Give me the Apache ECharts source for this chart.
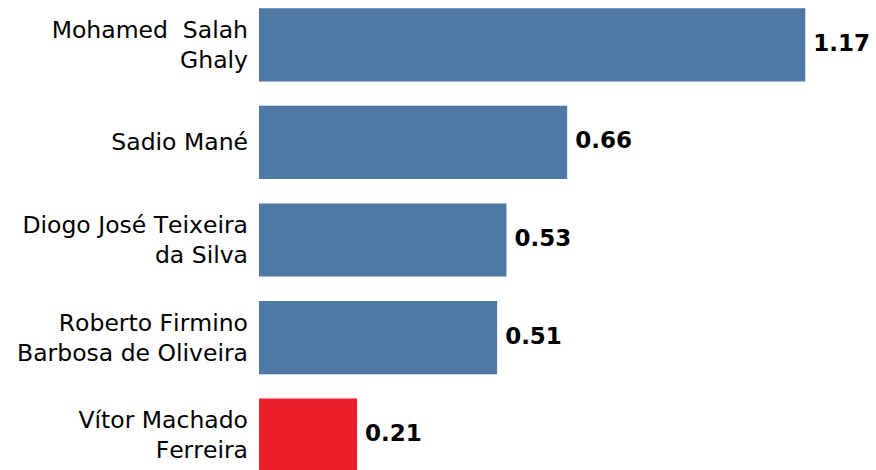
<!DOCTYPE html>
<html>
<head>
<meta charset="utf-8">
<script src="https://cdn.jsdelivr.net/npm/echarts@6/dist/echarts.min.js"></script>
<style>
  html, body { margin: 0; padding: 0; background: #fff; overflow: hidden; }
  body { width: 876px; height: 470px; position: relative; }
  /* the plot runs a little past the top and bottom of the picture */
  #chart { width: 876px; height: 488px; position: absolute; left: 0; top: -4px; }
  #chart text { font-kerning: none; }
</style>
</head>
<body>
<div id="chart"></div>
<script>
// players, top to bottom
var players = [
    'Mohamed  Salah\nGhaly',
    'Sadio Mané',
    'Diogo José Teixeira\nda Silva',
    'Roberto Firmino\nBarbosa de Oliveira',
    'Vítor Machado\nFerreira'
];
var values = [1.17, 0.66, 0.53, 0.51, 0.21];
var barColors = ['#4e79a7', '#4e79a7', '#4e79a7', '#4e79a7', '#ed1f2d'];

var myChart = echarts.init(document.getElementById('chart'), null, { renderer: 'svg' });
var font = 'DejaVu Sans';

var option = {
    animation: false,
    grid: {
        left: 259,
        right: 10,
        top: 0,
        bottom: 0
    },
    xAxis: {
        type: 'value',
        min: 0,
        max: 1.3,
        show: false
    },
    yAxis: {
        type: 'category',
        inverse: true,
        data: players,
        axisLine: { show: false },
        axisTick: { show: false },
        splitLine: { show: false },
        axisLabel: {
            margin: 11,
            fontFamily: font,
            fontSize: 23.5,
            lineHeight: 30,
            padding: [4, 0, 0, 0],
            color: '#000',
            align: 'right'
        }
    },
    series: [{
        type: 'bar',
        barCategoryGap: '25%',
        data: values.map(function (v, i) {
            return { value: v, itemStyle: { color: barColors[i] } };
        }),
        label: {
            show: true,
            position: 'right',
            distance: 8,
            offset: [0, -2],
            fontFamily: font,
            fontSize: 23,
            fontWeight: 'bold',
            color: '#000',
            formatter: function (p) { return p.value.toFixed(2); }
        }
    }]
};

myChart.setOption(option);
</script>
</body>
</html>
